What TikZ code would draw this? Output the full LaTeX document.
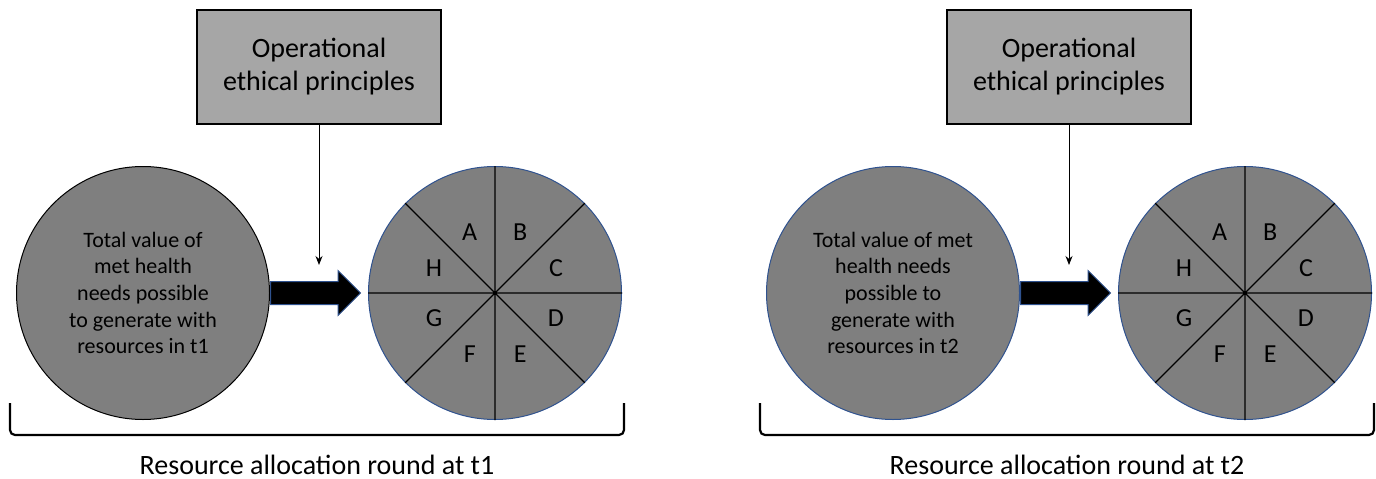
\documentclass[tikz,border=0pt]{standalone}
\usepackage{fontspec}
\setmainfont{Carlito}
\usetikzlibrary{arrows.meta,shapes.arrows,calc}
\definecolor{boxgray}{HTML}{A6A6A6}
\definecolor{circgray}{HTML}{7F7F7F}
\definecolor{edgeblue}{HTML}{2F528F}

\tikzset{
  principles/.style={draw=black, line width=1.3pt, fill=boxgray, minimum width=244pt,
    minimum height=114pt, align=center, font=\fontsize{28}{33}\selectfont},
  valuecirc/.style={circle, draw, line width=1pt, fill=circgray, minimum size=253pt,
    inner sep=0pt, align=center, font=\fontsize{22}{26.7}\selectfont},
  piecirc/.style={valuecirc, draw=edgeblue},
  fatarrow/.style={single arrow, draw=edgeblue, line width=1pt, fill=black,
    inner xsep=0pt, inner ysep=11pt, minimum height=90pt, single arrow head extend=11pt},
  pieline/.style={line width=1.3pt},
  slice/.style={font=\fontsize{26}{30}\selectfont},
  bracket/.style={line width=2.2pt, rounded corners=5pt},
  roundlabel/.style={font=\fontsize{28}{33}\selectfont}
}

\begin{document}
\begin{tikzpicture}[x=1pt,y=1pt]
  \useasboundingbox (0,0) rectangle (1376,-479);

  \foreach \dx/\t/\lc/\txt in {
      0/1/black/{Total value of\\met health\\needs possible\\to generate with\\resources in t1},
      750/2/edgeblue/{Total value of met\\health needs\\possible to\\generate with\\resources in t2}} {
    \begin{scope}[xshift=\dx*1pt]
      \node[principles] (box\t) at (319,-67) {Operational\\ethical principles};
      \coordinate (tip\t) at (319,-265);
      \draw[-{Stealth[length=9pt,width=7pt]}, line width=1pt] (box\t.south) -- (tip\t);

      \node[valuecirc, draw=\lc] (value\t) at (143,-293) {\txt};
      \node[piecirc] (pie\t) at (495,-293) {};
      \path (value\t.east) -- (pie\t.west) node[pos=0, anchor=tail, fatarrow] (push\t) {};

      \draw[pieline] (pie\t.north) -- (pie\t.south)
                     (pie\t.west) -- (pie\t.east)
                     (pie\t.north west) -- (pie\t.south east)
                     (pie\t.north east) -- (pie\t.south west);
      \foreach \l/\a in {A/112.5,B/67.5,C/22.5,D/-22.5,E/-67.5,F/-112.5,G/-157.5,H/157.5}
        \node[slice] (\l\t) at ($(pie\t.center)+(\a:66)$) {\l};

      \draw[bracket] (10,-403) -- (10,-435) -- (624,-435) -- (624,-403);
      \node[roundlabel] (round\t) at (317,-465) {Resource allocation round at t\t};
    \end{scope}
  }
\end{tikzpicture}
\end{document}
